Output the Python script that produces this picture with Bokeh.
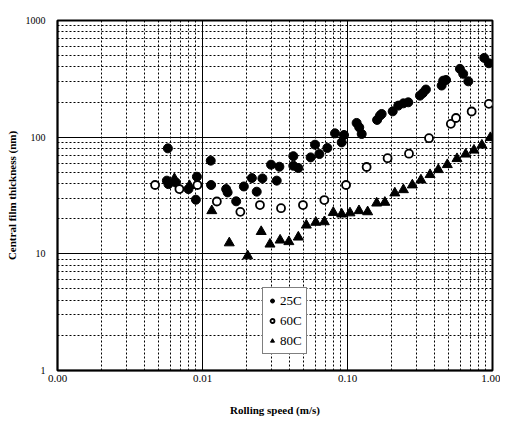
from bokeh.plotting import figure
from bokeh.models import Range1d, FixedTicker, PrintfTickFormatter, Legend
from bokeh.embed import file_html
from bokeh.resources import INLINE

# 25C (filled circles)
x25 = [0.00577, 0.00568, 0.00582, 0.00655, 0.0080, 0.00915, 0.0090, 0.0114, 0.01146,
       0.01456, 0.0149, 0.01707, 0.01928, 0.0219, 0.02366, 0.0259, 0.0297, 0.0339,
       0.0325, 0.0423, 0.0423, 0.0458, 0.0557, 0.064, 0.0597, 0.0726, 0.082, 0.0912,
       0.0946, 0.1156, 0.1205, 0.1253, 0.160, 0.1675, 0.172, 0.205, 0.224, 0.243,
       0.2625, 0.316, 0.331, 0.3475, 0.446, 0.457, 0.478, 0.596, 0.628, 0.681, 0.877, 0.944]
y25 = [80.2, 42.4, 39.6, 40.9, 35.9, 45.8, 29.1, 62.9, 38.9,
       35.9, 33.6, 28.2, 37.8, 44.6, 34.1, 44.3, 58.1, 55.8,
       42.4, 68.7, 56.9, 54.4, 67.1, 71.7, 86.2, 80.8, 107.8, 90.2,
       104.4, 132.4, 121.4, 106.5, 140.5, 153, 158, 166.5, 186.4, 195,
       199, 227, 239, 256, 277, 305, 309, 385, 349, 301, 478, 430]

# 60C (open circles)
x60 = [0.00471, 0.00693, 0.00923, 0.01256, 0.01824, 0.0249, 0.0348, 0.0493, 0.0692,
       0.0977, 0.1355, 0.189, 0.2655, 0.365, 0.516, 0.560, 0.718, 0.944]
y60 = [38.9, 35.9, 38.9, 28.1, 22.9, 26.2, 24.6, 26.2, 28.9,
       38.9, 55.5, 66, 72.2, 98, 130, 146, 166, 193]

# 80C (filled triangles)
x80 = [0.0064, 0.00813, 0.01159, 0.0153, 0.0205, 0.0254, 0.0292, 0.0343, 0.0394,
       0.0458, 0.052, 0.0604, 0.0692, 0.0798, 0.0912, 0.104, 0.120, 0.1377, 0.159,
       0.181, 0.212, 0.243, 0.280, 0.321, 0.371, 0.423, 0.488, 0.569, 0.653, 0.745,
       0.845, 0.966]
y80 = [44.0, 38.4, 23.4, 12.4, 9.6, 15.5, 12.1, 13.1, 12.7,
       13.9, 17.6, 18.6, 18.8, 22.6, 21.9, 22.4, 23.4, 22.9, 27.2,
       27.6, 33.2, 35.4, 38.9, 42.9, 47.7, 52.6, 58.1, 65.4, 71.5, 77.3,
       85.4, 99]

x_major = [0.001, 0.01, 0.1, 1.0]
y_major = [1, 10, 100, 1000]
x_minor = [k * 10.0 ** e for e in (-3, -2, -1) for k in range(2, 10)]
y_minor = [k * 10.0 ** e for e in (0, 1, 2) for k in range(2, 10)]

SERIF = "Liberation Serif"

p = figure(width=500, height=421, x_axis_type="log", y_axis_type="log",
           x_range=Range1d(0.001, 1.0), y_range=Range1d(1, 1000),
           output_backend="svg", toolbar_location=None,
           min_border_left=57, min_border_right=8, min_border_top=20, min_border_bottom=51)

p.xaxis.ticker = FixedTicker(ticks=x_major, minor_ticks=x_minor)
p.yaxis.ticker = FixedTicker(ticks=y_major, minor_ticks=y_minor)
p.xaxis.formatter = PrintfTickFormatter(format="%.2f")
p.yaxis.formatter = PrintfTickFormatter(format="%d")

for ax in (p.xaxis, p.yaxis):
    ax.major_tick_out = 0
    ax.major_tick_in = 0
    ax.minor_tick_out = 0
    ax.minor_tick_in = 0
    ax.axis_line_color = "black"
    ax.axis_line_width = 1.5
    ax.major_label_text_font = SERIF
    ax.major_label_text_color = "black"
    ax.axis_label_text_font = SERIF
    ax.axis_label_text_font_style = "bold"
    ax.axis_label_text_font_size = "11px"
    ax.axis_label_text_color = "black"

p.xaxis.major_label_text_font_size = "11px"
p.yaxis.major_label_text_font_size = "10px"
p.xaxis.major_label_standoff = 4
p.yaxis.major_label_standoff = 12
p.xaxis.axis_label = "Rolling speed (m/s)"
p.yaxis.axis_label = "Central film thickness (nm)"
p.xaxis.axis_label_standoff = 19
p.yaxis.axis_label_standoff = 5

for g in (p.xgrid, p.ygrid):
    g.grid_line_color = "black"
    g.grid_line_width = 1
    g.grid_line_alpha = 1.0
    g.minor_grid_line_color = "black"
    g.minor_grid_line_width = 1
    g.minor_grid_line_dash = "2 2"

p.outline_line_color = "black"
p.outline_line_width = 2
p.background_fill_color = "white"

r25 = p.scatter(x25, y25, marker="circle", size=9, fill_color="black", line_color="black")
r60 = p.scatter(x60, y60, marker="circle", size=8, fill_color="white", line_color="black", line_width=1.8)
r80 = p.scatter(x80, y80, marker="triangle", size=10, fill_color="black", line_color="black")

legend = Legend(items=[("25C", [r25]), ("60C", [r60]), ("80C", [r80])],
                location=(205, 16))
legend.label_text_font = SERIF
legend.label_text_font_size = "13px"
legend.label_text_color = "black"
legend.border_line_color = "black"
legend.border_line_width = 1
legend.background_fill_color = "white"
legend.background_fill_alpha = 1.0
legend.padding = 4
legend.spacing = 3
legend.margin = 0
legend.glyph_width = 10
legend.glyph_height = 17
legend.label_height = 17
legend.label_standoff = 3
p.add_layout(legend, "center")

open("out.html", "w").write(file_html(p, INLINE))
